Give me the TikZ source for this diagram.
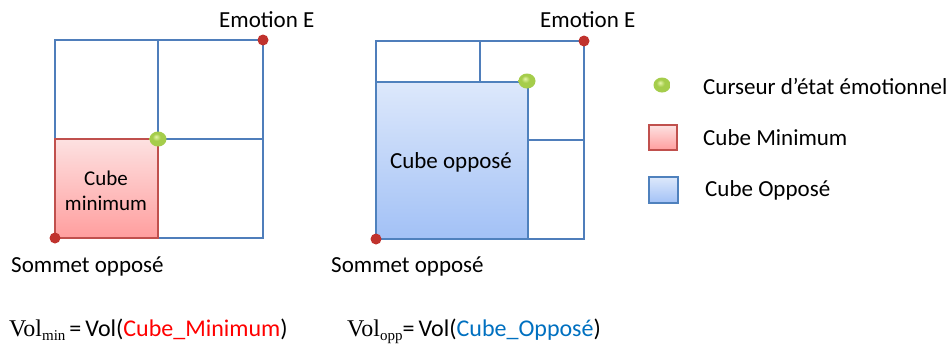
\documentclass[tikz,border=0pt]{standalone}
\usepackage{fontspec}
\setmainfont{Carlito}
\newfontfamily\tms{Liberation Serif}
\definecolor{gl}{RGB}{230,245,170}
\definecolor{gm}{RGB}{165,205,75}
\definecolor{gd}{RGB}{115,155,35}
\pgfdeclareradialshading{greenballsh}{\pgfpoint{-6bp}{8bp}}{color(0bp)=(gl); color(12bp)=(gm); color(26bp)=(gm); color(34bp)=(gd); color(50bp)=(gd)}
\begin{document}
\begin{tikzpicture}[x=1pt,y=-1pt,
  grid/.style={draw={rgb,255:red,79;green,126;blue,187},line width=1.2pt},
  mincube/.style={draw={rgb,255:red,192;green,80;blue,77},line width=1.2pt,top color={rgb,255:red,253;green,225;blue,225},bottom color={rgb,255:red,255;green,158;blue,158}},
  oppcube/.style={draw={rgb,255:red,79;green,129;blue,189},line width=1.2pt,top color={rgb,255:red,221;green,232;blue,251},bottom color={rgb,255:red,162;green,193;blue,246}},
  reddot/.style={circle,inner sep=0pt,minimum size=11pt,fill={rgb,255:red,192;green,50;blue,45}},
  lbl/.style={font=\fontsize{23}{27}\selectfont,inner sep=0pt},
  greenball/.style={shading=greenballsh}
]
\useasboundingbox (0,0) rectangle (952,349);

% ---- left figure
\path[mincube] (55,139) rectangle (158,238);
\draw[grid] (55,40) rectangle (263,238);
\draw[grid] (158,40) -- (158,139) (158,139) -- (263,139);
\draw[mincube,fill=none] (55,139) rectangle (158,238);
\node[lbl,font=\fontsize{21}{25}\selectfont,align=center] (cmin) at (106,191) {Cube\\minimum};
\shade[greenball] (158,139) ellipse (8.5pt and 7.5pt);
\coordinate (cur1) at (158,139);
\node[reddot] (e1) at (263,40) {};
\node[reddot] (s1) at (55,238) {};
\node[lbl,anchor=base west] (le1) at (219,27) {Emotion E};
\node[lbl,anchor=base west] (ls1) at (11,272) {Sommet opposé};

% ---- right figure
\path[oppcube] (376,82) rectangle (528,239);
\draw[grid] (376,41) rectangle (584,239);
\draw[grid] (480,41) -- (480,82) (376,82) -- (528,82) (528,82) -- (528,239) (528,140) -- (584,140);
\draw[oppcube,fill=none] (376,82) rectangle (528,239);
\node[lbl] (copp) at (451,162) {Cube opposé};
\shade[greenball] (527,81) ellipse (8.5pt and 7.5pt);
\coordinate (cur2) at (527,81);
\node[reddot] (e2) at (584,41) {};
\node[reddot] (s2) at (376,239) {};
\node[lbl,anchor=base west] (le2) at (540,27) {Emotion E};
\node[lbl,anchor=base west] (ls2) at (331,272) {Sommet opposé};

% ---- legend
\shade[greenball] (662,85) ellipse (8.5pt and 7.5pt);
\node[lbl,anchor=west] (lg1) at (703,86) {Curseur d’état émotionnel};
\path[mincube] (649,125) rectangle (677,150);
\node[lbl,anchor=west] (lg2) at (703,138) {Cube Minimum};
\path[oppcube] (649,177) rectangle (678,203);
\node[lbl,anchor=west] (lg3) at (705,190) {Cube Opposé};

% ---- formulas
\node[lbl,font=\fontsize{24}{28}\selectfont,anchor=base west] (f1) at (9,336) {{\tms Vol\raisebox{-4pt}{\fontsize{15}{15}\selectfont min}}\,=\,Vol({\color[rgb]{1,0,0}Cube\_Minimum})};
\node[lbl,font=\fontsize{24}{28}\selectfont,anchor=base west] (f2) at (347,336) {{\tms Vol\raisebox{-4pt}{\fontsize{15}{15}\selectfont opp}}=\,Vol({\color[RGB]{0,112,192}Cube\_Opposé})};
\end{tikzpicture}
\end{document}
